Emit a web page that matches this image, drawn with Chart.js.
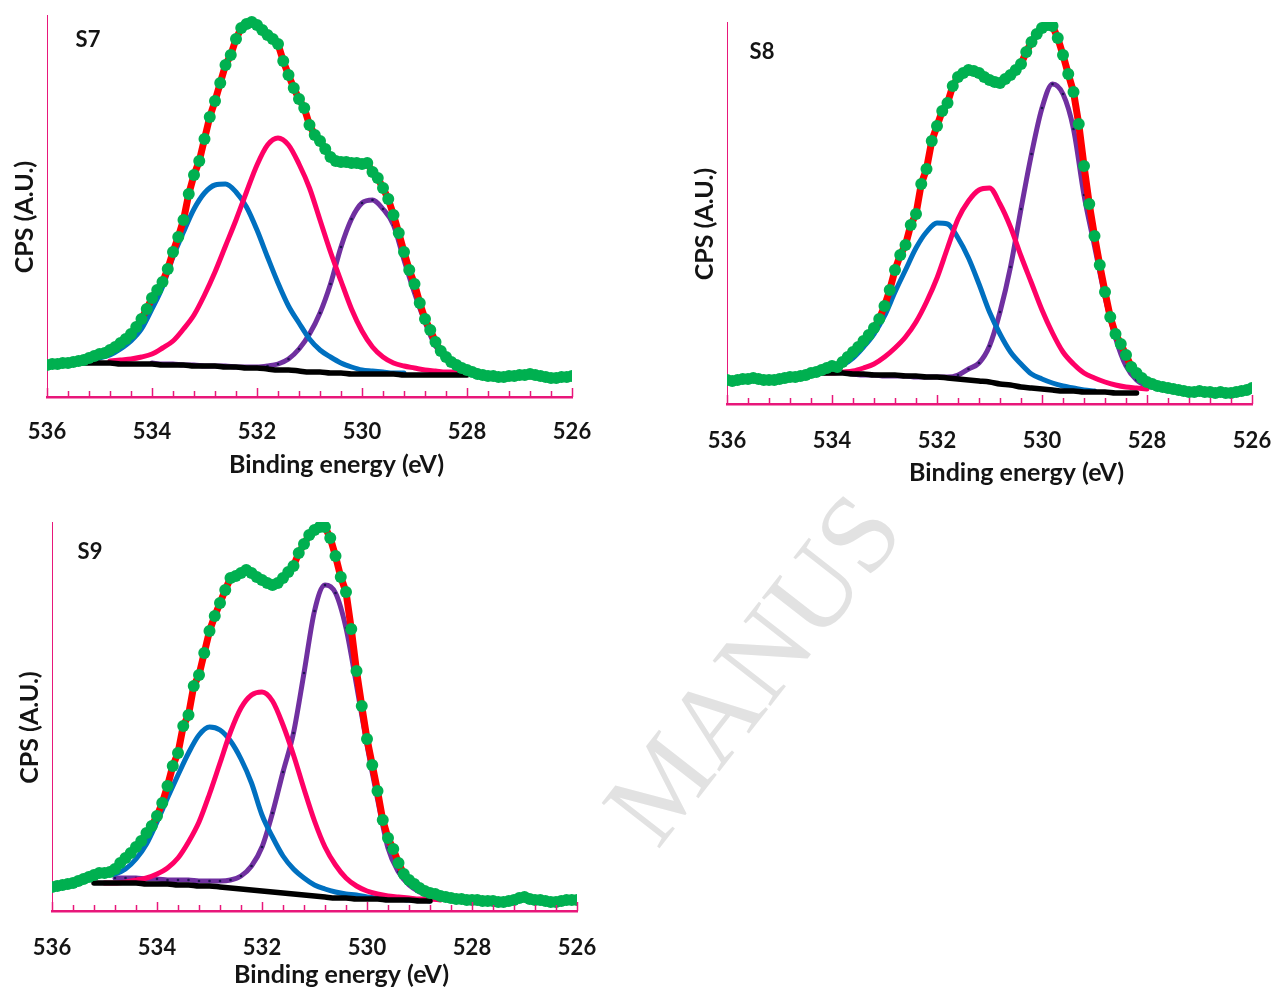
<!DOCTYPE html>
<html>
<head>
<meta charset="utf-8">
<script src="https://cdn.jsdelivr.net/npm/chart.js@4.4.1/dist/chart.umd.min.js"></script>
<style>
  html, body { margin: 0; padding: 0; background: #fff; overflow: hidden; }
  body { width: 1272px; height: 990px; position: relative; }
  .panel { position: absolute; }
  .panel canvas { display: block; }
  .watermark {
    position: absolute; left: 752px; top: 668px;
    transform: translate(-50%, -50%) rotate(-52deg);
    font-family: 'Liberation Serif', serif; font-size: 112px; line-height: 1;
    color: #e2e2e2; white-space: nowrap;
  }
</style>
</head>
<body>
<div class="watermark">MANUS</div>
<div class="panel" style="left:0;top:0"><canvas id="s7" width="610" height="490"></canvas></div>
<div class="panel" style="left:672px;top:0"><canvas id="s8" width="600" height="500"></canvas></div>
<div class="panel" style="left:0;top:500px"><canvas id="s9" width="610" height="490"></canvas></div>
<script>

// scan energies (eV), 0.1 eV step, high -> low
const scanEnergy = [
  536.0, 535.9, 535.8, 535.7, 535.6, 535.5, 535.4, 535.3, 535.2, 535.1,
  535.0, 534.9, 534.8, 534.7, 534.6, 534.5, 534.4, 534.3, 534.2, 534.1,
  534.0, 533.9, 533.8, 533.7, 533.6, 533.5, 533.4, 533.3, 533.2, 533.1,
  533.0, 532.9, 532.8, 532.7, 532.6, 532.5, 532.4, 532.3, 532.2, 532.1,
  532.0, 531.9, 531.8, 531.7, 531.6, 531.5, 531.4, 531.3, 531.2, 531.1,
  531.0, 530.9, 530.8, 530.7, 530.6, 530.5, 530.4, 530.3, 530.2, 530.1,
  530.0, 529.9, 529.8, 529.7, 529.6, 529.5, 529.4, 529.3, 529.2, 529.1,
  529.0, 528.9, 528.8, 528.7, 528.6, 528.5, 528.4, 528.3, 528.2, 528.1,
  528.0, 527.9, 527.8, 527.7, 527.6, 527.5, 527.4, 527.3, 527.2, 527.1,
  527.0, 526.9, 526.8, 526.7, 526.6, 526.5, 526.4, 526.3, 526.2, 526.1,
  526.0
];

// energies for the fitted components and background (eV)
const fitEnergy = [
  535.4, 535.2, 535.0, 534.8, 534.6, 534.4, 534.2, 534.0, 533.8, 533.6,
  533.4, 533.2, 533.0, 532.8, 532.6, 532.4, 532.2, 532.0, 531.8, 531.6,
  531.4, 531.2, 531.0, 530.8, 530.6, 530.4, 530.2, 530.0, 529.8, 529.6,
  529.4, 529.2, 529.0, 528.8, 528.6, 528.4, 528.2, 528.0, 527.8
];

// ---- S7 ----
const s7Scan = [
  32, 33, 33, 34, 34, 35, 36, 37, 39, 41,
  43, 44, 47, 50, 54, 58, 63, 70, 78, 88,
  99, 107, 115, 128, 145, 160, 177, 203, 222, 236,
  258, 280, 296, 314, 332, 342, 358, 369, 373, 375,
  372, 367, 362, 358, 353, 336, 322, 309, 298, 289,
  272, 262, 256, 248, 240, 236, 235, 235, 234, 234,
  233, 234, 225, 219, 209, 198, 182, 164, 145, 127,
  113, 94, 78, 67, 55, 46, 40, 35, 32, 29,
  27, 25, 23, 22, 21, 21, 20, 20, 21, 21,
  22, 22, 23, 22, 21, 20, 19, 19, 20, 20,
  21
];
const s7Blue = [
  36, 37, 39, 42, 48, 56, 68, 88, 110, 140,
  165, 188, 204, 212, 213, 205, 190, 167, 140, 114,
  91, 74, 58, 47, 40, 34, 30, 27, 26, 25,
  24, 24, null, null, null, null, null, null, null
];
const s7Pink = [
  null, null, null, 36, 37, 38, 40, 43, 49, 56,
  68, 82, 102, 125, 151, 177, 205, 232, 252, 259,
  252, 233, 209, 177, 145, 116, 88, 66, 50, 40,
  34, 31, 29, 27, 26, 25, 25, null, null
];
const s7Purple = [
  null, null, null, null, null, null, null, 34, 33, 33,
  32, 32, 31, 31, 31, 30, 30, 30, 31, 33,
  38, 48, 63, 84, 113, 150, 178, 194, 197, 188,
  172, 137, 104, 75, 51, 39, 31, 27, 26
];
const s7Base = [
  34, 34, 34, 34, 33, 33, 33, 33, 32, 32,
  32, 31, 31, 31, 30, 30, 29, 29, 28, 27,
  27, 26, 25, 25, 24, 24, 23, 23, 23, 23,
  23, 22, 22, 22, 22, 22, 22, 22, null
];

// ---- S8 ----
const s8Scan = [
  24, 23, 24, 25, 25, 26, 25, 24, 24, 24,
  25, 26, 27, 27, 28, 29, 31, 32, 34, 36,
  38, 37, 42, 47, 52, 57, 63, 69, 76, 85,
  98, 114, 134, 149, 159, 179, 190, 220, 235, 263,
  278, 293, 301, 318, 327, 331, 334, 333, 331, 327,
  324, 322, 321, 325, 329, 334, 340, 352, 362, 370,
  376, 379, 378, 366, 349, 330, 312, 280, 238, 200,
  168, 139, 112, 87, 70, 60, 49, 37, 31, 26,
  22, 20, 18, 17, 16, 15, 14, 13, 12, 12,
  13, 12, 12, 11, 12, 11, 11, 12, 13, 14,
  16
];
const s8Blue = [
  null, null, null, null, null, null, 36, 37, 39, 46,
  57, 70, 88, 112, 134, 156, 172, 181, 180, 166,
  146, 120, 92, 70, 52, 40, 30, 25, 21, 18,
  16, 14, 13, null, null, null, null, null, null
];
const s8Pink = [
  null, null, null, null, null, null, 31, 31, 32, 33,
  36, 40, 47, 56, 67, 82, 102, 126, 156, 185,
  203, 214, 216, 200, 177, 148, 121, 94, 71, 52,
  40, 31, 26, 22, 19, 17, 16, 15, null
];
const s8Purple = [
  null, null, null, null, null, null, null, null, null, 30,
  29, 29, 28, 28, 28, 27, 27, 27, 27, 29,
  35, 41, 58, 92, 137, 195, 250, 296, 320, 310,
  275, 209, 158, 107, 66, 38, 24, 18, 16
];
const s8Base = [
  null, null, null, null, null, null, 31, 31, 31, 30,
  30, 29, 29, 29, 28, 28, 27, 27, 26, 25,
  24, 23, 22, 20, 19, 17, 16, 15, 14, 13,
  13, 12, 12, 12, 11, 11, 11, null, null
];

// ---- S9 ----
const s9Scan = [
  24, 25, 26, 27, 28, 30, 32, 34, 36, 38,
  38, 39, 42, 48, 53, 58, 64, 70, 78, 85,
  95, 108, 125, 145, 158, 185, 196, 225, 236, 258,
  280, 295, 308, 321, 333, 335, 338, 341, 338, 334,
  331, 328, 326, 328, 333, 339, 345, 358, 367, 376,
  381, 384, 384, 373, 355, 334, 319, 282, 240, 205,
  172, 146, 120, 91, 73, 62, 48, 37, 31, 27,
  23, 20, 18, 17, 15, 14, 13, 12, 12, 11,
  11, 11, 10, 10, 10, 9, 9, 10, 11, 13,
  14, 12, 11, 11, 10, 9, 9, 10, 11, 11,
  11
];
const s9Blue = [
  null, 35, 36, 37, 42, 52, 67, 89, 113, 136,
  158, 176, 184, 181, 170, 152, 128, 96, 74, 55,
  42, 33, 26, 22, 19, 17, 16, 14, 13, 12,
  12, 11, 11, 10, null, null, null, null, null
];
const s9Pink = [
  null, null, 28, 28, 29, 31, 33, 37, 43, 53,
  69, 89, 117, 148, 179, 203, 216, 219, 210, 186,
  156, 122, 90, 64, 46, 33, 25, 20, 17, 15,
  14, 13, 12, 12, 11, null, null, null, null
];
const s9Purple = [
  null, null, null, 33, 33, 33, 32, 32, 31, 31,
  31, 30, 30, 30, 31, 35, 45, 64, 98, 139,
  178, 238, 300, 326, 318, 283, 226, 166, 112, 63,
  39, 26, 19, 15, 13, null, null, null, null
];
const s9Base = [
  null, 28, 28, 28, 28, 28, 27, 27, 27, 26,
  26, 25, 25, 24, 23, 22, 21, 20, 19, 18,
  17, 16, 15, 14, 13, 13, 12, 12, 12, 11,
  11, 11, 10, 10, null, null, null, null, null
];

const majorStep = 2;
const minorStep = 0.4;
const xTitle = 'Binding energy (eV)';
const yTitle = 'CPS (A.U.)';

const colors = {
  scan: '#00b050',
  fit: '#ff0000',
  blue: '#0070c0',
  pink: '#ff0066',
  purple: '#7030a0',
  base: '#000000'
};
const axisPink = '#e8177a';
const textColor = '#141414';
const tickFont = { family: 'Lato', size: 22, weight: 'bold' };

function pts(xs, ys) {
  return xs.map((x, i) => ({ x: x, y: ys[i] }));
}

// inward tick marks on the energy axis, axis titles and panel label
const panelMarks = {
  id: 'panelMarks',
  afterDraw(chart, args, opts) {
    const { ctx, chartArea } = chart;
    const x = chart.scales.x;
    const n = Math.round((x.max - x.min) / minorStep);
    const perMajor = Math.round(majorStep / minorStep);
    ctx.save();
    ctx.strokeStyle = axisPink;
    ctx.lineWidth = 1.5;
    for (let k = 0; k <= n; k++) {
      const px = Math.round(x.getPixelForValue(x.min + k * minorStep)) + 0.5;
      const len = k % perMajor === 0 ? 9 : 6;
      ctx.beginPath();
      ctx.moveTo(px, chartArea.bottom);
      ctx.lineTo(px, chartArea.bottom - len);
      ctx.stroke();
    }

    ctx.fillStyle = textColor;
    ctx.textAlign = 'center';
    ctx.textBaseline = 'middle';
    ctx.font = 'bold 22px Lato';
    ctx.fillText(opts.label, chartArea.left + opts.dx, chartArea.top + opts.dy);

    ctx.font = 'bold 25px Lato';
    const midX = (chartArea.left + chartArea.right) / 2;
    const midY = (chartArea.top + chartArea.bottom) / 2;
    ctx.fillText(xTitle, midX + 27, chartArea.bottom + opts.xTitleDy);
    ctx.translate(chartArea.left - 22, midY + 11);
    ctx.rotate(-Math.PI / 2);
    ctx.fillText(yTitle, 0, 0);
    ctx.restore();
  }
};

function lineSet(ys, color, width) {
  return {
    data: pts(fitEnergy, ys),
    borderColor: color,
    borderWidth: width,
    pointRadius: 0,
    cubicInterpolationMode: 'monotone',
    borderCapStyle: 'round',
    borderJoinStyle: 'round'
  };
}

function makePanel(id, label, s, g) {
  const purple = lineSet(s.purple, colors.purple, 5);
  purple.pointRadius = 1.3;
  purple.pointBackgroundColor = '#1c1450';
  purple.pointBorderWidth = 0;

  new Chart(document.getElementById(id), {
    type: 'line',
    data: {
      // first dataset ends up on top
      datasets: [
        { data: pts(scanEnergy, s.scan), showLine: false, pointRadius: 6,
          pointBackgroundColor: colors.scan, pointBorderWidth: 0 },
        { data: pts(scanEnergy, s.scan), borderColor: colors.fit, borderWidth: 7,
          pointRadius: 0, borderJoinStyle: 'round' },
        lineSet(s.base, colors.base, 5.5),
        lineSet(s.pink, colors.pink, 5),
        lineSet(s.blue, colors.blue, 5),
        purple
      ]
    },
    options: {
      responsive: false,
      animation: false,
      events: [],
      layout: { padding: { top: g.padTop, right: g.padRight, left: 0, bottom: 0 } },
      plugins: {
        legend: { display: false },
        tooltip: { enabled: false },
        panelMarks: { label: label, dx: g.labelDx, dy: g.labelDy, xTitleDy: g.xTitleDy }
      },
      scales: {
        x: {
          type: 'linear',
          reverse: true,
          min: 526,
          max: 536,
          ticks: { stepSize: majorStep, color: textColor, font: tickFont, padding: g.tickPad, maxRotation: 0 },
          grid: { display: false, drawTicks: false },
          border: { color: axisPink, width: 2.5 },
          afterFit: sc => {
            sc.height = g.xH;
            sc.paddingLeft = 20;
            sc.paddingRight = 20;
          }
        },
        y: {
          min: 0,
          max: g.yMax,
          ticks: { display: false },
          grid: { display: false, drawTicks: false },
          border: { color: axisPink, width: 1 },
          afterFit: sc => { sc.width = g.axisW; }
        }
      }
    },
    plugins: [panelMarks]
  });
}

makePanel('s7', 'S7',
  { scan: s7Scan, blue: s7Blue, pink: s7Pink, purple: s7Purple, base: s7Base },
  { yMax: 382, axisW: 47, padTop: 15, padRight: 38, xH: 93, tickPad: 22,
    xTitleDy: 68, labelDx: 41, labelDy: 25 });

makePanel('s8', 'S8',
  { scan: s8Scan, blue: s8Blue, pink: s8Pink, purple: s8Purple, base: s8Base },
  { yMax: 382, axisW: 55, padTop: 22, padRight: 20, xH: 96, tickPad: 24,
    xTitleDy: 69, labelDx: 35, labelDy: 30 });

makePanel('s9', 'S9',
  { scan: s9Scan, blue: s9Blue, pink: s9Pink, purple: s9Purple, base: s9Base },
  { yMax: 389, axisW: 52, padTop: 22, padRight: 33, xH: 79, tickPad: 24,
    xTitleDy: 64, labelDx: 38, labelDy: 30 });
</script>
</body>
</html>
